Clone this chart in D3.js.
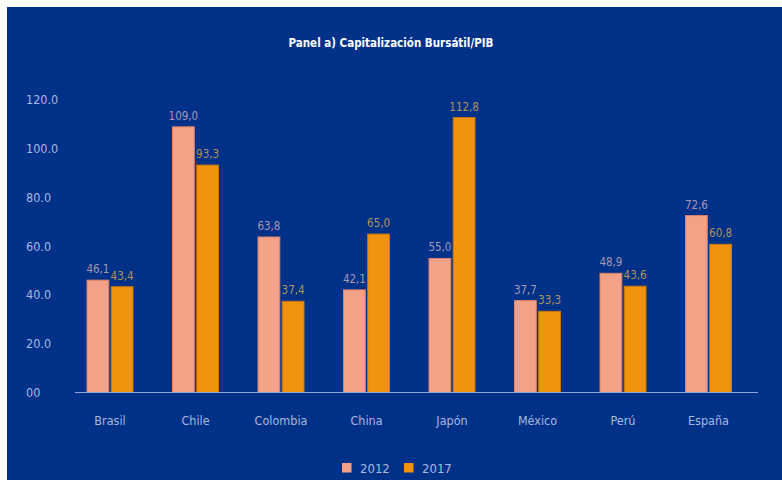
<!DOCTYPE html>
<html>
<head>
<meta charset="utf-8">
<script src="https://cdn.jsdelivr.net/npm/d3@7"></script>
<style>
  html, body { margin: 0; padding: 0; background: #fff; }
  svg { display: block; }
  text { font-family: "Liberation Sans Narrow", "DejaVu Sans Condensed", "Roboto", sans-serif; }
</style>
</head>
<body>
<div id="chart"></div>
<script>
// --- Data ---
const categories = ["Brasil", "Chile", "Colombia", "China", "Japón", "México", "Perú", "España"];
const series = ["2012", "2017"];
const values2012 = [46.1, 109.0, 63.8, 42.1, 55.0, 37.7, 48.9, 72.6];
const values2017 = [43.4, 93.3, 37.4, 65.0, 112.8, 33.3, 43.6, 60.8];
const yTicks = [0, 20, 40, 60, 80, 100, 120];
const yTickLabels = ["00", "20.0", "40.0", "60.0", "80.0", "100.0", "120.0"];

const W = 782, H = 480;
const bg = "#003189";
const colors = { "2012": "#f3a187", "2017": "#f0930f" };
const strokes = { "2012": "#d9826d", "2017": "#c97808" };
const textCol = "#a9b8e0";

const svg = d3.select("#chart").append("svg").attr("width", W).attr("height", H);
svg.append("rect").attr("x", 7).attr("y", 7).attr("width", W - 7).attr("height", H - 7).attr("fill", bg);

// title
svg.append("text").attr("x", 391).attr("y", 47).attr("text-anchor", "middle")
  .attr("fill", "#fff").style("font-weight", "700").style("font-size", "11.5px")
  .text("Panel a) Capitalización Bursátil/PIB");

// scales
const x = d3.scaleBand().domain(categories).range([67, 751]);
const xs = d3.scaleBand().domain(series).range([20, 66]).paddingInner(0.1);
const y = d3.scaleLinear().domain([0, 120]).range([392.5, 100]);

// y tick labels
const yAxis = svg.append("g");
yAxis.selectAll("text").data(yTicks).join("text")
  .attr("x", 26).attr("y", d => y(d)).attr("dy", "0.35em")
  .attr("fill", textCol).style("font-size", "12.5px")
  .text((d, i) => yTickLabels[i]);

// bars
const rows = categories.map((c, i) => ({ cat: c, vals: [
  { s: "2012", v: values2012[i] }, { s: "2017", v: values2017[i] }] }));

const groups = svg.append("g").selectAll("g").data(rows).join("g")
  .attr("transform", d => `translate(${x(d.cat)},0)`);

groups.selectAll("rect").data(d => d.vals).join("rect")
  .attr("x", d => xs(d.s)).attr("width", xs.bandwidth())
  .attr("y", d => y(d.v)).attr("height", d => y(0) - y(d.v))
  .attr("fill", d => colors[d.s]).attr("stroke", d => strokes[d.s]).attr("stroke-width", 1);

groups.selectAll("text.val").data(d => d.vals).join("text").attr("class", "val")
  .attr("x", d => xs(d.s) + xs.bandwidth() / 2).attr("y", d => y(d.v) - 7)
  .attr("text-anchor", "middle").style("font-size", "11.5px")
  .attr("fill", d => d.s === "2012" ? "#a898b4" : "#b3925a")
  .text(d => d3.format(".1f")(d.v).replace(".", ","));

// baseline
svg.append("line").attr("x1", 75).attr("x2", 758).attr("y1", y(0)).attr("y2", y(0))
  .attr("stroke", "#8fa3d6").attr("stroke-width", 1.2);

// x labels
svg.append("g").selectAll("text").data(categories).join("text")
  .attr("x", d => x(d) + 43).attr("y", 425).attr("text-anchor", "middle")
  .attr("fill", textCol).style("font-size", "12.5px").text(d => d);

// legend
const legendX = [342, 404];
const leg = svg.append("g").selectAll("g").data(series).join("g")
  .attr("transform", (d, i) => `translate(${legendX[i]},463)`);
leg.append("rect").attr("width", 9.5).attr("height", 9.5).attr("fill", d => colors[d]);
leg.append("text").attr("x", 18).attr("y", 5).attr("dy", "0.35em")
  .attr("fill", textCol).style("font-size", "13px").text(d => d);
</script>
</body>
</html>
